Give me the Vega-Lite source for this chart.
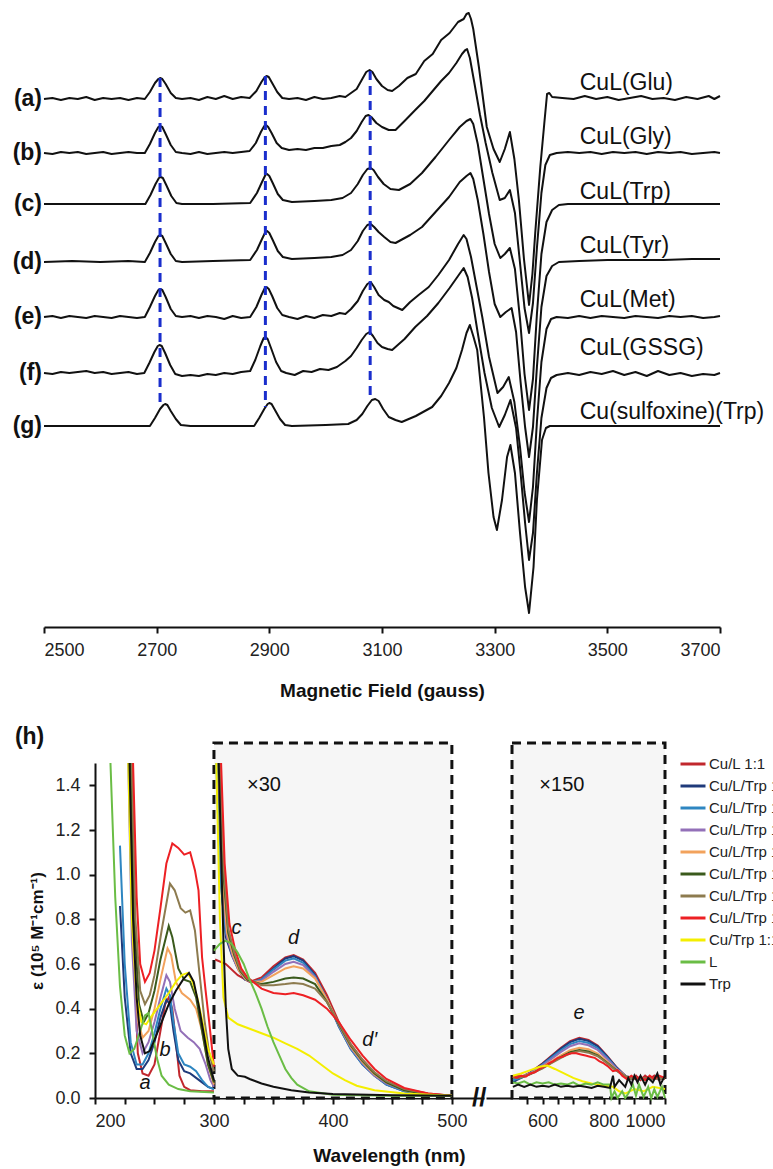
{
"$schema":"https://vega.github.io/schema/vega-lite/v6.json",
"padding":{"left":12,"top":7,"right":0,"bottom":4},
"background":"white",
"config":{
 "font":"Liberation Sans",
 "view":{"stroke":null},
 "axis":{"grid":false,"domainColor":"#111","domainWidth":2,"tickColor":"#111","tickWidth":2,"tickSize":6,"labelColor":"#222","labelFontSize":18,"labelFont":"Liberation Sans","titleFont":"Liberation Sans","titleColor":"#111","titleFontWeight":"bold","titleFontSize":19},
 "text":{"font":"Liberation Sans","color":"#111"},
 "legend":{"labelFont":"Liberation Sans"}
},
"datasets":{
"names":[{"k":1,"name":"Cu/L 1:1"},{"k":2,"name":"Cu/L/Trp 1:1:0.25"},{"k":3,"name":"Cu/L/Trp 1:1:0.5"},{"k":4,"name":"Cu/L/Trp 1:1:1"},{"k":5,"name":"Cu/L/Trp 1:1:2"},{"k":6,"name":"Cu/L/Trp 1:1:5"},{"k":7,"name":"Cu/L/Trp 1:1:10"},{"k":8,"name":"Cu/L/Trp 1:1:20"},{"k":9,"name":"Cu/Trp 1:1"},{"k":10,"name":"L"},{"k":11,"name":"Trp"}],
"epr":[
{"s":"a","x":2500,"y":528},{"s":"a","x":2515,"y":529},{"s":"a","x":2530,"y":527},{"s":"a","x":2545,"y":529},{"s":"a","x":2560,"y":528},{"s":"a","x":2575,"y":530},{"s":"a","x":2590,"y":527},{"s":"a","x":2605,"y":529},{"s":"a","x":2620,"y":528},{"s":"a","x":2635,"y":529},{"s":"a","x":2650,"y":527},{"s":"a","x":2665,"y":529},{"s":"a","x":2679,"y":528},{"s":"a","x":2688,"y":535},{"s":"a","x":2697,"y":544},{"s":"a","x":2703,"y":548},{"s":"a","x":2706,"y":549},{"s":"a","x":2710,"y":548},{"s":"a","x":2716,"y":543},{"s":"a","x":2725,"y":534},{"s":"a","x":2734,"y":529},{"s":"a","x":2745,"y":528},{"s":"a","x":2760,"y":529},{"s":"a","x":2775,"y":527},{"s":"a","x":2790,"y":530},{"s":"a","x":2805,"y":528},{"s":"a","x":2820,"y":531},{"s":"a","x":2835,"y":528},{"s":"a","x":2850,"y":530},{"s":"a","x":2865,"y":529},{"s":"a","x":2877,"y":536},{"s":"a","x":2886,"y":545},{"s":"a","x":2892,"y":550},{"s":"a","x":2895,"y":551},{"s":"a","x":2899,"y":550},{"s":"a","x":2905,"y":544},{"s":"a","x":2914,"y":535},{"s":"a","x":2923,"y":529},{"s":"a","x":2935,"y":528},{"s":"a","x":2950,"y":529},{"s":"a","x":2965,"y":527},{"s":"a","x":2980,"y":530},{"s":"a","x":2995,"y":528},{"s":"a","x":3010,"y":529},{"s":"a","x":3025,"y":531},{"s":"a","x":3035,"y":530},{"s":"a","x":3045,"y":534},{"s":"a","x":3055,"y":538},{"s":"a","x":3064,"y":547},{"s":"a","x":3072,"y":555},{"s":"a","x":3078,"y":557},{"s":"a","x":3083,"y":555},{"s":"a","x":3090,"y":548},{"s":"a","x":3100,"y":541},{"s":"a","x":3110,"y":537},{"s":"a","x":3118,"y":536},{"s":"a","x":3130,"y":541},{"s":"a","x":3145,"y":549},{"s":"a","x":3160,"y":553},{"s":"a","x":3175,"y":566},{"s":"a","x":3190,"y":573},{"s":"a","x":3205,"y":587},{"s":"a","x":3220,"y":594},{"s":"a","x":3235,"y":605},{"s":"a","x":3245,"y":608},{"s":"a","x":3250,"y":613},{"s":"a","x":3254,"y":614},{"s":"a","x":3258,"y":608},{"s":"a","x":3262,"y":598},{"s":"a","x":3272,"y":560},{"s":"a","x":3286,"y":500},{"s":"a","x":3298,"y":478},{"s":"a","x":3309,"y":465},{"s":"a","x":3318,"y":478},{"s":"a","x":3327,"y":495},{"s":"a","x":3335,"y":468},{"s":"a","x":3343,"y":427},{"s":"a","x":3352,"y":368},{"s":"a","x":3361,"y":322},{"s":"a","x":3367,"y":353},{"s":"a","x":3372,"y":394},{"s":"a","x":3381,"y":460},{"s":"a","x":3388,"y":503},{"s":"a","x":3393,"y":533},{"s":"a","x":3397,"y":534},{"s":"a","x":3402,"y":530},{"s":"a","x":3420,"y":529},{"s":"a","x":3440,"y":528},{"s":"a","x":3460,"y":531},{"s":"a","x":3480,"y":528},{"s":"a","x":3500,"y":530},{"s":"a","x":3520,"y":527},{"s":"a","x":3540,"y":529},{"s":"a","x":3560,"y":531},{"s":"a","x":3580,"y":528},{"s":"a","x":3600,"y":529},{"s":"a","x":3620,"y":527},{"s":"a","x":3640,"y":530},{"s":"a","x":3660,"y":528},{"s":"a","x":3680,"y":531},{"s":"a","x":3690,"y":528},{"s":"a","x":3700,"y":531},
{"s":"b","x":2500,"y":474},{"s":"b","x":2515,"y":473},{"s":"b","x":2530,"y":475},{"s":"b","x":2545,"y":474},{"s":"b","x":2560,"y":475},{"s":"b","x":2575,"y":473},{"s":"b","x":2590,"y":474},{"s":"b","x":2605,"y":475},{"s":"b","x":2620,"y":473},{"s":"b","x":2635,"y":474},{"s":"b","x":2650,"y":475},{"s":"b","x":2665,"y":474},{"s":"b","x":2679,"y":474},{"s":"b","x":2688,"y":483},{"s":"b","x":2697,"y":494},{"s":"b","x":2703,"y":500},{"s":"b","x":2706,"y":501},{"s":"b","x":2710,"y":500},{"s":"b","x":2716,"y":493},{"s":"b","x":2725,"y":482},{"s":"b","x":2734,"y":475},{"s":"b","x":2745,"y":474},{"s":"b","x":2760,"y":473},{"s":"b","x":2775,"y":475},{"s":"b","x":2790,"y":473},{"s":"b","x":2805,"y":474},{"s":"b","x":2820,"y":475},{"s":"b","x":2835,"y":474},{"s":"b","x":2850,"y":475},{"s":"b","x":2865,"y":476},{"s":"b","x":2876,"y":484},{"s":"b","x":2885,"y":495},{"s":"b","x":2891,"y":501},{"s":"b","x":2894,"y":502},{"s":"b","x":2898,"y":500},{"s":"b","x":2904,"y":494},{"s":"b","x":2913,"y":484},{"s":"b","x":2922,"y":479},{"s":"b","x":2935,"y":477},{"s":"b","x":2950,"y":478},{"s":"b","x":2965,"y":477},{"s":"b","x":2980,"y":479},{"s":"b","x":2995,"y":479},{"s":"b","x":3010,"y":481},{"s":"b","x":3025,"y":482},{"s":"b","x":3035,"y":485},{"s":"b","x":3045,"y":489},{"s":"b","x":3055,"y":496},{"s":"b","x":3064,"y":505},{"s":"b","x":3071,"y":511},{"s":"b","x":3076,"y":512},{"s":"b","x":3081,"y":510},{"s":"b","x":3090,"y":504},{"s":"b","x":3100,"y":500},{"s":"b","x":3112,"y":497},{"s":"b","x":3124,"y":497},{"s":"b","x":3140,"y":506},{"s":"b","x":3159,"y":517},{"s":"b","x":3175,"y":526},{"s":"b","x":3190,"y":536},{"s":"b","x":3205,"y":546},{"s":"b","x":3219,"y":554},{"s":"b","x":3232,"y":564},{"s":"b","x":3242,"y":573},{"s":"b","x":3248,"y":577},{"s":"b","x":3251,"y":578},{"s":"b","x":3256,"y":569},{"s":"b","x":3264,"y":544},{"s":"b","x":3274,"y":512},{"s":"b","x":3284,"y":484},{"s":"b","x":3296,"y":454},{"s":"b","x":3309,"y":427},{"s":"b","x":3318,"y":429},{"s":"b","x":3327,"y":437},{"s":"b","x":3336,"y":414},{"s":"b","x":3345,"y":364},{"s":"b","x":3353,"y":319},{"s":"b","x":3361,"y":294},{"s":"b","x":3368,"y":324},{"s":"b","x":3375,"y":379},{"s":"b","x":3383,"y":434},{"s":"b","x":3390,"y":462},{"s":"b","x":3398,"y":472},{"s":"b","x":3410,"y":474},{"s":"b","x":3430,"y":475},{"s":"b","x":3450,"y":474},{"s":"b","x":3470,"y":475},{"s":"b","x":3490,"y":473},{"s":"b","x":3510,"y":475},{"s":"b","x":3530,"y":474},{"s":"b","x":3550,"y":475},{"s":"b","x":3570,"y":473},{"s":"b","x":3590,"y":475},{"s":"b","x":3610,"y":474},{"s":"b","x":3630,"y":475},{"s":"b","x":3650,"y":473},{"s":"b","x":3670,"y":474},{"s":"b","x":3690,"y":475},{"s":"b","x":3700,"y":474},
{"s":"c","x":2500,"y":423},{"s":"c","x":2600,"y":423},{"s":"c","x":2680,"y":423},{"s":"c","x":2689,"y":432},{"s":"c","x":2698,"y":443},{"s":"c","x":2704,"y":449},{"s":"c","x":2707,"y":450},{"s":"c","x":2711,"y":449},{"s":"c","x":2717,"y":442},{"s":"c","x":2726,"y":431},{"s":"c","x":2735,"y":424},{"s":"c","x":2745,"y":423},{"s":"c","x":2800,"y":423},{"s":"c","x":2866,"y":424},{"s":"c","x":2878,"y":434},{"s":"c","x":2887,"y":445},{"s":"c","x":2893,"y":452},{"s":"c","x":2896,"y":453},{"s":"c","x":2900,"y":451},{"s":"c","x":2906,"y":444},{"s":"c","x":2915,"y":433},{"s":"c","x":2924,"y":427},{"s":"c","x":2940,"y":425},{"s":"c","x":2980,"y":426},{"s":"c","x":3010,"y":427},{"s":"c","x":3030,"y":429},{"s":"c","x":3045,"y":434},{"s":"c","x":3057,"y":443},{"s":"c","x":3066,"y":452},{"s":"c","x":3074,"y":458},{"s":"c","x":3080,"y":459},{"s":"c","x":3085,"y":457},{"s":"c","x":3093,"y":450},{"s":"c","x":3103,"y":443},{"s":"c","x":3115,"y":438},{"s":"c","x":3130,"y":437},{"s":"c","x":3150,"y":443},{"s":"c","x":3171,"y":454},{"s":"c","x":3195,"y":470},{"s":"c","x":3219,"y":487},{"s":"c","x":3238,"y":500},{"s":"c","x":3250,"y":506},{"s":"c","x":3257,"y":508},{"s":"c","x":3262,"y":503},{"s":"c","x":3270,"y":483},{"s":"c","x":3280,"y":448},{"s":"c","x":3290,"y":413},{"s":"c","x":3300,"y":383},{"s":"c","x":3310,"y":369},{"s":"c","x":3318,"y":373},{"s":"c","x":3327,"y":379},{"s":"c","x":3336,"y":358},{"s":"c","x":3345,"y":308},{"s":"c","x":3353,"y":253},{"s":"c","x":3361,"y":217},{"s":"c","x":3368,"y":248},{"s":"c","x":3375,"y":313},{"s":"c","x":3383,"y":373},{"s":"c","x":3392,"y":405},{"s":"c","x":3402,"y":417},{"s":"c","x":3414,"y":422},{"s":"c","x":3430,"y":423},{"s":"c","x":3700,"y":423},
{"s":"d","x":2500,"y":365},{"s":"d","x":2550,"y":366},{"s":"d","x":2600,"y":365},{"s":"d","x":2650,"y":366},{"s":"d","x":2679,"y":365},{"s":"d","x":2688,"y":374},{"s":"d","x":2697,"y":385},{"s":"d","x":2703,"y":391},{"s":"d","x":2706,"y":392},{"s":"d","x":2710,"y":391},{"s":"d","x":2716,"y":384},{"s":"d","x":2725,"y":373},{"s":"d","x":2734,"y":366},{"s":"d","x":2745,"y":365},{"s":"d","x":2800,"y":366},{"s":"d","x":2866,"y":367},{"s":"d","x":2878,"y":377},{"s":"d","x":2887,"y":388},{"s":"d","x":2893,"y":395},{"s":"d","x":2896,"y":396},{"s":"d","x":2900,"y":394},{"s":"d","x":2906,"y":387},{"s":"d","x":2915,"y":376},{"s":"d","x":2924,"y":370},{"s":"d","x":2940,"y":368},{"s":"d","x":2980,"y":369},{"s":"d","x":3010,"y":370},{"s":"d","x":3030,"y":372},{"s":"d","x":3045,"y":377},{"s":"d","x":3057,"y":386},{"s":"d","x":3066,"y":396},{"s":"d","x":3074,"y":402},{"s":"d","x":3080,"y":403},{"s":"d","x":3086,"y":400},{"s":"d","x":3094,"y":395},{"s":"d","x":3104,"y":390},{"s":"d","x":3115,"y":385},{"s":"d","x":3124,"y":384},{"s":"d","x":3150,"y":392},{"s":"d","x":3171,"y":400},{"s":"d","x":3195,"y":415},{"s":"d","x":3219,"y":430},{"s":"d","x":3238,"y":445},{"s":"d","x":3250,"y":451},{"s":"d","x":3257,"y":454},{"s":"d","x":3262,"y":448},{"s":"d","x":3270,"y":427},{"s":"d","x":3280,"y":393},{"s":"d","x":3290,"y":355},{"s":"d","x":3300,"y":323},{"s":"d","x":3310,"y":310},{"s":"d","x":3320,"y":315},{"s":"d","x":3330,"y":319},{"s":"d","x":3338,"y":295},{"s":"d","x":3346,"y":245},{"s":"d","x":3354,"y":200},{"s":"d","x":3361,"y":170},{"s":"d","x":3368,"y":200},{"s":"d","x":3375,"y":260},{"s":"d","x":3383,"y":320},{"s":"d","x":3392,"y":351},{"s":"d","x":3402,"y":361},{"s":"d","x":3414,"y":365},{"s":"d","x":3450,"y":366},{"s":"d","x":3500,"y":367},{"s":"d","x":3550,"y":367},{"s":"d","x":3600,"y":367},{"s":"d","x":3650,"y":368},{"s":"d","x":3700,"y":368},
{"s":"e","x":2500,"y":310},{"s":"e","x":2515,"y":311},{"s":"e","x":2530,"y":309},{"s":"e","x":2545,"y":311},{"s":"e","x":2560,"y":310},{"s":"e","x":2575,"y":309},{"s":"e","x":2590,"y":311},{"s":"e","x":2605,"y":310},{"s":"e","x":2620,"y":309},{"s":"e","x":2635,"y":311},{"s":"e","x":2650,"y":310},{"s":"e","x":2665,"y":309},{"s":"e","x":2679,"y":310},{"s":"e","x":2688,"y":320},{"s":"e","x":2697,"y":331},{"s":"e","x":2703,"y":337},{"s":"e","x":2706,"y":338},{"s":"e","x":2710,"y":337},{"s":"e","x":2716,"y":330},{"s":"e","x":2725,"y":318},{"s":"e","x":2734,"y":311},{"s":"e","x":2745,"y":310},{"s":"e","x":2760,"y":311},{"s":"e","x":2775,"y":309},{"s":"e","x":2790,"y":311},{"s":"e","x":2805,"y":310},{"s":"e","x":2820,"y":308},{"s":"e","x":2835,"y":311},{"s":"e","x":2850,"y":309},{"s":"e","x":2866,"y":310},{"s":"e","x":2877,"y":320},{"s":"e","x":2886,"y":332},{"s":"e","x":2892,"y":339},{"s":"e","x":2895,"y":340},{"s":"e","x":2899,"y":338},{"s":"e","x":2905,"y":331},{"s":"e","x":2914,"y":319},{"s":"e","x":2923,"y":312},{"s":"e","x":2935,"y":310},{"s":"e","x":2950,"y":308},{"s":"e","x":2965,"y":311},{"s":"e","x":2980,"y":309},{"s":"e","x":2995,"y":312},{"s":"e","x":3010,"y":311},{"s":"e","x":3025,"y":314},{"s":"e","x":3035,"y":313},{"s":"e","x":3045,"y":318},{"s":"e","x":3057,"y":326},{"s":"e","x":3066,"y":336},{"s":"e","x":3074,"y":343},{"s":"e","x":3080,"y":345},{"s":"e","x":3086,"y":340},{"s":"e","x":3094,"y":332},{"s":"e","x":3104,"y":327},{"s":"e","x":3112,"y":325},{"s":"e","x":3120,"y":321},{"s":"e","x":3136,"y":317},{"s":"e","x":3150,"y":325},{"s":"e","x":3165,"y":332},{"s":"e","x":3183,"y":340},{"s":"e","x":3200,"y":352},{"s":"e","x":3219,"y":367},{"s":"e","x":3235,"y":383},{"s":"e","x":3245,"y":392},{"s":"e","x":3250,"y":388},{"s":"e","x":3258,"y":370},{"s":"e","x":3268,"y":340},{"s":"e","x":3278,"y":310},{"s":"e","x":3290,"y":270},{"s":"e","x":3305,"y":234},{"s":"e","x":3315,"y":240},{"s":"e","x":3325,"y":250},{"s":"e","x":3335,"y":225},{"s":"e","x":3345,"y":180},{"s":"e","x":3353,"y":135},{"s":"e","x":3361,"y":105},{"s":"e","x":3368,"y":140},{"s":"e","x":3375,"y":205},{"s":"e","x":3383,"y":265},{"s":"e","x":3392,"y":298},{"s":"e","x":3400,"y":308},{"s":"e","x":3410,"y":310},{"s":"e","x":3430,"y":309},{"s":"e","x":3450,"y":311},{"s":"e","x":3470,"y":309},{"s":"e","x":3490,"y":311},{"s":"e","x":3510,"y":310},{"s":"e","x":3530,"y":309},{"s":"e","x":3550,"y":311},{"s":"e","x":3570,"y":310},{"s":"e","x":3590,"y":309},{"s":"e","x":3610,"y":311},{"s":"e","x":3630,"y":310},{"s":"e","x":3650,"y":311},{"s":"e","x":3670,"y":309},{"s":"e","x":3690,"y":310},{"s":"e","x":3700,"y":311},
{"s":"f","x":2500,"y":254},{"s":"f","x":2515,"y":253},{"s":"f","x":2530,"y":255},{"s":"f","x":2545,"y":254},{"s":"f","x":2560,"y":255},{"s":"f","x":2575,"y":256},{"s":"f","x":2590,"y":254},{"s":"f","x":2605,"y":255},{"s":"f","x":2620,"y":253},{"s":"f","x":2635,"y":254},{"s":"f","x":2650,"y":255},{"s":"f","x":2665,"y":253},{"s":"f","x":2678,"y":254},{"s":"f","x":2687,"y":264},{"s":"f","x":2696,"y":275},{"s":"f","x":2702,"y":281},{"s":"f","x":2705,"y":282},{"s":"f","x":2709,"y":281},{"s":"f","x":2715,"y":274},{"s":"f","x":2724,"y":262},{"s":"f","x":2733,"y":253},{"s":"f","x":2745,"y":251},{"s":"f","x":2760,"y":252},{"s":"f","x":2775,"y":251},{"s":"f","x":2790,"y":253},{"s":"f","x":2805,"y":252},{"s":"f","x":2820,"y":254},{"s":"f","x":2835,"y":253},{"s":"f","x":2850,"y":255},{"s":"f","x":2866,"y":256},{"s":"f","x":2875,"y":267},{"s":"f","x":2884,"y":281},{"s":"f","x":2890,"y":289},{"s":"f","x":2893,"y":290},{"s":"f","x":2897,"y":288},{"s":"f","x":2903,"y":279},{"s":"f","x":2912,"y":265},{"s":"f","x":2921,"y":256},{"s":"f","x":2930,"y":254},{"s":"f","x":2945,"y":252},{"s":"f","x":2960,"y":256},{"s":"f","x":2975,"y":255},{"s":"f","x":2990,"y":258},{"s":"f","x":3005,"y":257},{"s":"f","x":3020,"y":260},{"s":"f","x":3035,"y":266},{"s":"f","x":3045,"y":271},{"s":"f","x":3055,"y":279},{"s":"f","x":3064,"y":287},{"s":"f","x":3072,"y":293},{"s":"f","x":3078,"y":295},{"s":"f","x":3084,"y":291},{"s":"f","x":3092,"y":284},{"s":"f","x":3100,"y":280},{"s":"f","x":3110,"y":278},{"s":"f","x":3118,"y":277},{"s":"f","x":3140,"y":288},{"s":"f","x":3159,"y":300},{"s":"f","x":3180,"y":311},{"s":"f","x":3200,"y":324},{"s":"f","x":3220,"y":339},{"s":"f","x":3235,"y":351},{"s":"f","x":3245,"y":359},{"s":"f","x":3252,"y":350},{"s":"f","x":3260,"y":329},{"s":"f","x":3270,"y":294},{"s":"f","x":3282,"y":254},{"s":"f","x":3295,"y":219},{"s":"f","x":3308,"y":200},{"s":"f","x":3318,"y":212},{"s":"f","x":3328,"y":227},{"s":"f","x":3338,"y":199},{"s":"f","x":3346,"y":154},{"s":"f","x":3354,"y":104},{"s":"f","x":3361,"y":67},{"s":"f","x":3368,"y":94},{"s":"f","x":3375,"y":154},{"s":"f","x":3383,"y":209},{"s":"f","x":3392,"y":239},{"s":"f","x":3400,"y":249},{"s":"f","x":3410,"y":252},{"s":"f","x":3430,"y":254},{"s":"f","x":3450,"y":252},{"s":"f","x":3470,"y":255},{"s":"f","x":3490,"y":253},{"s":"f","x":3510,"y":256},{"s":"f","x":3530,"y":252},{"s":"f","x":3550,"y":255},{"s":"f","x":3570,"y":251},{"s":"f","x":3590,"y":256},{"s":"f","x":3610,"y":252},{"s":"f","x":3630,"y":254},{"s":"f","x":3650,"y":251},{"s":"f","x":3670,"y":253},{"s":"f","x":3690,"y":252},{"s":"f","x":3700,"y":254},
{"s":"g","x":2500,"y":201},{"s":"g","x":2600,"y":201},{"s":"g","x":2688,"y":201},{"s":"g","x":2697,"y":209},{"s":"g","x":2706,"y":218},{"s":"g","x":2712,"y":222},{"s":"g","x":2715,"y":223},{"s":"g","x":2719,"y":222},{"s":"g","x":2725,"y":216},{"s":"g","x":2734,"y":208},{"s":"g","x":2743,"y":202},{"s":"g","x":2760,"y":201},{"s":"g","x":2850,"y":201},{"s":"g","x":2873,"y":201},{"s":"g","x":2882,"y":209},{"s":"g","x":2891,"y":218},{"s":"g","x":2897,"y":223},{"s":"g","x":2900,"y":224},{"s":"g","x":2904,"y":223},{"s":"g","x":2910,"y":217},{"s":"g","x":2919,"y":208},{"s":"g","x":2928,"y":202},{"s":"g","x":2940,"y":201},{"s":"g","x":3000,"y":202},{"s":"g","x":3040,"y":203},{"s":"g","x":3055,"y":207},{"s":"g","x":3065,"y":213},{"s":"g","x":3074,"y":221},{"s":"g","x":3082,"y":227},{"s":"g","x":3088,"y":228},{"s":"g","x":3094,"y":226},{"s":"g","x":3102,"y":218},{"s":"g","x":3112,"y":210},{"s":"g","x":3124,"y":207},{"s":"g","x":3135,"y":205},{"s":"g","x":3160,"y":211},{"s":"g","x":3189,"y":220},{"s":"g","x":3205,"y":231},{"s":"g","x":3219,"y":244},{"s":"g","x":3232,"y":259},{"s":"g","x":3242,"y":277},{"s":"g","x":3250,"y":294},{"s":"g","x":3256,"y":302},{"s":"g","x":3262,"y":291},{"s":"g","x":3269,"y":277},{"s":"g","x":3281,"y":210},{"s":"g","x":3289,"y":154},{"s":"g","x":3298,"y":110},{"s":"g","x":3304,"y":97},{"s":"g","x":3313,"y":127},{"s":"g","x":3322,"y":170},{"s":"g","x":3328,"y":182},{"s":"g","x":3336,"y":154},{"s":"g","x":3345,"y":94},{"s":"g","x":3354,"y":40},{"s":"g","x":3361,"y":14},{"s":"g","x":3369,"y":60},{"s":"g","x":3375,"y":127},{"s":"g","x":3384,"y":187},{"s":"g","x":3391,"y":199},{"s":"g","x":3398,"y":201},{"s":"g","x":3700,"y":201}
],
"uv":[
{"k":1,"g":"u","x":230,"y":1.5},{"k":1,"g":"u","x":233,"y":0.6},{"k":1,"g":"u","x":236,"y":0.2},{"k":1,"g":"u","x":240,"y":0.11},{"k":1,"g":"u","x":245,"y":0.1},{"k":1,"g":"u","x":250,"y":0.15},{"k":1,"g":"u","x":255,"y":0.3},{"k":1,"g":"u","x":259,"y":0.42},{"k":1,"g":"u","x":262,"y":0.45},{"k":1,"g":"u","x":265,"y":0.4},{"k":1,"g":"u","x":268,"y":0.25},{"k":1,"g":"u","x":271,"y":0.1},{"k":1,"g":"u","x":275,"y":0.05},{"k":1,"g":"u","x":280,"y":0.035},{"k":1,"g":"u","x":290,"y":0.03},{"k":1,"g":"u","x":300,"y":0.03},
{"k":1,"g":"v","x":301,"y":0.62},{"k":1,"g":"v","x":310,"y":0.6},{"k":1,"g":"v","x":320,"y":0.55},{"k":1,"g":"v","x":330,"y":0.52},{"k":1,"g":"v","x":340,"y":0.54},{"k":1,"g":"v","x":350,"y":0.59},{"k":1,"g":"v","x":360,"y":0.63},{"k":1,"g":"v","x":367,"y":0.64},{"k":1,"g":"v","x":375,"y":0.62},{"k":1,"g":"v","x":385,"y":0.56},{"k":1,"g":"v","x":395,"y":0.46},{"k":1,"g":"v","x":405,"y":0.34},{"k":1,"g":"v","x":415,"y":0.24},{"k":1,"g":"v","x":425,"y":0.17},{"k":1,"g":"v","x":435,"y":0.11},{"k":1,"g":"v","x":445,"y":0.07},{"k":1,"g":"v","x":460,"y":0.04},{"k":1,"g":"v","x":480,"y":0.02},{"k":1,"g":"v","x":500,"y":0.01},
{"k":1,"g":"w","x":503,"y":0.09},{"k":1,"g":"w","x":515,"y":0.1},{"k":1,"g":"w","x":530,"y":0.095},{"k":1,"g":"w","x":545,"y":0.105},{"k":1,"g":"w","x":560,"y":0.115},{"k":1,"g":"w","x":580,"y":0.135},{"k":1,"g":"w","x":600,"y":0.155},{"k":1,"g":"w","x":630,"y":0.19},{"k":1,"g":"w","x":660,"y":0.225},{"k":1,"g":"w","x":690,"y":0.255},{"k":1,"g":"w","x":720,"y":0.27},{"k":1,"g":"w","x":750,"y":0.26},{"k":1,"g":"w","x":780,"y":0.235},{"k":1,"g":"w","x":810,"y":0.19},{"k":1,"g":"w","x":840,"y":0.14},{"k":1,"g":"w","x":870,"y":0.1},{"k":1,"g":"w","x":890,"y":0.085},{"k":1,"g":"w","x":905,"y":0.1},{"k":1,"g":"w","x":920,"y":0.08},{"k":1,"g":"w","x":935,"y":0.1},{"k":1,"g":"w","x":950,"y":0.085},{"k":1,"g":"w","x":965,"y":0.1},{"k":1,"g":"w","x":980,"y":0.08},{"k":1,"g":"w","x":1000,"y":0.095},
{"k":2,"g":"u","x":221,"y":0.86},{"k":2,"g":"u","x":225,"y":0.45},{"k":2,"g":"u","x":230,"y":0.2},{"k":2,"g":"u","x":235,"y":0.13},{"k":2,"g":"u","x":240,"y":0.13},{"k":2,"g":"u","x":245,"y":0.17},{"k":2,"g":"u","x":250,"y":0.25},{"k":2,"g":"u","x":255,"y":0.36},{"k":2,"g":"u","x":260,"y":0.44},{"k":2,"g":"u","x":263,"y":0.42},{"k":2,"g":"u","x":266,"y":0.3},{"k":2,"g":"u","x":270,"y":0.17},{"k":2,"g":"u","x":275,"y":0.12},{"k":2,"g":"u","x":280,"y":0.11},{"k":2,"g":"u","x":285,"y":0.09},{"k":2,"g":"u","x":290,"y":0.07},{"k":2,"g":"u","x":295,"y":0.05},{"k":2,"g":"u","x":300,"y":0.04},
{"k":2,"g":"v","x":303,"y":1.5},{"k":2,"g":"v","x":306,"y":0.95},{"k":2,"g":"v","x":310,"y":0.72},{"k":2,"g":"v","x":315,"y":0.64},{"k":2,"g":"v","x":320,"y":0.58},{"k":2,"g":"v","x":326,"y":0.53},{"k":2,"g":"v","x":333,"y":0.52},{"k":2,"g":"v","x":340,"y":0.53},{"k":2,"g":"v","x":350,"y":0.58},{"k":2,"g":"v","x":360,"y":0.625},{"k":2,"g":"v","x":367,"y":0.635},{"k":2,"g":"v","x":375,"y":0.615},{"k":2,"g":"v","x":385,"y":0.55},{"k":2,"g":"v","x":395,"y":0.44},{"k":2,"g":"v","x":405,"y":0.32},{"k":2,"g":"v","x":415,"y":0.22},{"k":2,"g":"v","x":425,"y":0.15},{"k":2,"g":"v","x":435,"y":0.1},{"k":2,"g":"v","x":445,"y":0.06},{"k":2,"g":"v","x":460,"y":0.03},{"k":2,"g":"v","x":480,"y":0.015},{"k":2,"g":"v","x":500,"y":0.01},
{"k":2,"g":"w","x":503,"y":0.07},{"k":2,"g":"w","x":515,"y":0.08},{"k":2,"g":"w","x":530,"y":0.09},{"k":2,"g":"w","x":545,"y":0.1},{"k":2,"g":"w","x":560,"y":0.114},{"k":2,"g":"w","x":580,"y":0.133},{"k":2,"g":"w","x":600,"y":0.153},{"k":2,"g":"w","x":630,"y":0.187},{"k":2,"g":"w","x":660,"y":0.221},{"k":2,"g":"w","x":690,"y":0.25},{"k":2,"g":"w","x":720,"y":0.265},{"k":2,"g":"w","x":750,"y":0.255},{"k":2,"g":"w","x":780,"y":0.231},{"k":2,"g":"w","x":810,"y":0.187},{"k":2,"g":"w","x":840,"y":0.139},{"k":2,"g":"w","x":870,"y":0.1},{"k":2,"g":"w","x":890,"y":0.085},{"k":2,"g":"w","x":920,"y":0.09},{"k":2,"g":"w","x":950,"y":0.085},{"k":2,"g":"w","x":980,"y":0.09},{"k":2,"g":"w","x":1000,"y":0.085},
{"k":3,"g":"u","x":221,"y":1.13},{"k":3,"g":"u","x":225,"y":0.6},{"k":3,"g":"u","x":230,"y":0.25},{"k":3,"g":"u","x":235,"y":0.15},{"k":3,"g":"u","x":240,"y":0.15},{"k":3,"g":"u","x":245,"y":0.2},{"k":3,"g":"u","x":250,"y":0.29},{"k":3,"g":"u","x":255,"y":0.4},{"k":3,"g":"u","x":260,"y":0.49},{"k":3,"g":"u","x":263,"y":0.46},{"k":3,"g":"u","x":266,"y":0.34},{"k":3,"g":"u","x":270,"y":0.2},{"k":3,"g":"u","x":275,"y":0.15},{"k":3,"g":"u","x":280,"y":0.14},{"k":3,"g":"u","x":285,"y":0.12},{"k":3,"g":"u","x":290,"y":0.08},{"k":3,"g":"u","x":295,"y":0.05},{"k":3,"g":"u","x":300,"y":0.04},
{"k":3,"g":"v","x":302,"y":1.5},{"k":3,"g":"v","x":305,"y":1.0},{"k":3,"g":"v","x":310,"y":0.74},{"k":3,"g":"v","x":315,"y":0.66},{"k":3,"g":"v","x":320,"y":0.59},{"k":3,"g":"v","x":326,"y":0.535},{"k":3,"g":"v","x":333,"y":0.52},{"k":3,"g":"v","x":340,"y":0.53},{"k":3,"g":"v","x":350,"y":0.575},{"k":3,"g":"v","x":360,"y":0.615},{"k":3,"g":"v","x":367,"y":0.625},{"k":3,"g":"v","x":375,"y":0.605},{"k":3,"g":"v","x":385,"y":0.545},{"k":3,"g":"v","x":395,"y":0.44},{"k":3,"g":"v","x":405,"y":0.32},{"k":3,"g":"v","x":415,"y":0.22},{"k":3,"g":"v","x":425,"y":0.15},{"k":3,"g":"v","x":435,"y":0.1},{"k":3,"g":"v","x":445,"y":0.06},{"k":3,"g":"v","x":460,"y":0.03},{"k":3,"g":"v","x":480,"y":0.015},{"k":3,"g":"v","x":500,"y":0.01},
{"k":3,"g":"w","x":503,"y":0.08},{"k":3,"g":"w","x":515,"y":0.085},{"k":3,"g":"w","x":530,"y":0.09},{"k":3,"g":"w","x":545,"y":0.1},{"k":3,"g":"w","x":560,"y":0.113},{"k":3,"g":"w","x":580,"y":0.13},{"k":3,"g":"w","x":600,"y":0.15},{"k":3,"g":"w","x":630,"y":0.182},{"k":3,"g":"w","x":660,"y":0.214},{"k":3,"g":"w","x":690,"y":0.241},{"k":3,"g":"w","x":720,"y":0.255},{"k":3,"g":"w","x":750,"y":0.246},{"k":3,"g":"w","x":780,"y":0.223},{"k":3,"g":"w","x":810,"y":0.182},{"k":3,"g":"w","x":840,"y":0.136},{"k":3,"g":"w","x":870,"y":0.099},{"k":3,"g":"w","x":890,"y":0.085},{"k":3,"g":"w","x":920,"y":0.09},{"k":3,"g":"w","x":950,"y":0.085},{"k":3,"g":"w","x":980,"y":0.09},{"k":3,"g":"w","x":1000,"y":0.085},
{"k":4,"g":"u","x":228,"y":1.5},{"k":4,"g":"u","x":231,"y":0.7},{"k":4,"g":"u","x":235,"y":0.3},{"k":4,"g":"u","x":240,"y":0.2},{"k":4,"g":"u","x":245,"y":0.25},{"k":4,"g":"u","x":250,"y":0.34},{"k":4,"g":"u","x":255,"y":0.45},{"k":4,"g":"u","x":260,"y":0.55},{"k":4,"g":"u","x":263,"y":0.52},{"k":4,"g":"u","x":267,"y":0.4},{"k":4,"g":"u","x":272,"y":0.3},{"k":4,"g":"u","x":278,"y":0.27},{"k":4,"g":"u","x":283,"y":0.25},{"k":4,"g":"u","x":288,"y":0.22},{"k":4,"g":"u","x":293,"y":0.15},{"k":4,"g":"u","x":297,"y":0.08},{"k":4,"g":"u","x":300,"y":0.05},
{"k":4,"g":"v","x":304,"y":1.5},{"k":4,"g":"v","x":307,"y":0.95},{"k":4,"g":"v","x":311,"y":0.72},{"k":4,"g":"v","x":316,"y":0.63},{"k":4,"g":"v","x":321,"y":0.57},{"k":4,"g":"v","x":327,"y":0.53},{"k":4,"g":"v","x":333,"y":0.52},{"k":4,"g":"v","x":340,"y":0.525},{"k":4,"g":"v","x":350,"y":0.565},{"k":4,"g":"v","x":360,"y":0.6},{"k":4,"g":"v","x":367,"y":0.61},{"k":4,"g":"v","x":375,"y":0.595},{"k":4,"g":"v","x":385,"y":0.54},{"k":4,"g":"v","x":395,"y":0.44},{"k":4,"g":"v","x":405,"y":0.325},{"k":4,"g":"v","x":415,"y":0.225},{"k":4,"g":"v","x":425,"y":0.155},{"k":4,"g":"v","x":435,"y":0.1},{"k":4,"g":"v","x":445,"y":0.065},{"k":4,"g":"v","x":460,"y":0.035},{"k":4,"g":"v","x":480,"y":0.015},{"k":4,"g":"v","x":500,"y":0.01},
{"k":4,"g":"w","x":503,"y":0.09},{"k":4,"g":"w","x":530,"y":0.094},{"k":4,"g":"w","x":560,"y":0.112},{"k":4,"g":"w","x":600,"y":0.146},{"k":4,"g":"w","x":630,"y":0.176},{"k":4,"g":"w","x":660,"y":0.206},{"k":4,"g":"w","x":690,"y":0.232},{"k":4,"g":"w","x":720,"y":0.245},{"k":4,"g":"w","x":750,"y":0.236},{"k":4,"g":"w","x":780,"y":0.215},{"k":4,"g":"w","x":810,"y":0.176},{"k":4,"g":"w","x":840,"y":0.133},{"k":4,"g":"w","x":870,"y":0.099},{"k":4,"g":"w","x":890,"y":0.086},{"k":4,"g":"w","x":920,"y":0.09},{"k":4,"g":"w","x":950,"y":0.086},{"k":4,"g":"w","x":980,"y":0.09},{"k":4,"g":"w","x":1000,"y":0.086},
{"k":5,"g":"u","x":229,"y":1.5},{"k":5,"g":"u","x":232,"y":0.7},{"k":5,"g":"u","x":236,"y":0.35},{"k":5,"g":"u","x":240,"y":0.27},{"k":5,"g":"u","x":245,"y":0.3},{"k":5,"g":"u","x":250,"y":0.4},{"k":5,"g":"u","x":255,"y":0.53},{"k":5,"g":"u","x":261,"y":0.67},{"k":5,"g":"u","x":264,"y":0.64},{"k":5,"g":"u","x":268,"y":0.52},{"k":5,"g":"u","x":273,"y":0.47},{"k":5,"g":"u","x":280,"y":0.44},{"k":5,"g":"u","x":285,"y":0.4},{"k":5,"g":"u","x":290,"y":0.3},{"k":5,"g":"u","x":295,"y":0.15},{"k":5,"g":"u","x":300,"y":0.06},
{"k":5,"g":"v","x":304,"y":1.5},{"k":5,"g":"v","x":307,"y":1.0},{"k":5,"g":"v","x":311,"y":0.74},{"k":5,"g":"v","x":316,"y":0.64},{"k":5,"g":"v","x":321,"y":0.57},{"k":5,"g":"v","x":327,"y":0.53},{"k":5,"g":"v","x":333,"y":0.52},{"k":5,"g":"v","x":340,"y":0.52},{"k":5,"g":"v","x":350,"y":0.55},{"k":5,"g":"v","x":360,"y":0.58},{"k":5,"g":"v","x":367,"y":0.59},{"k":5,"g":"v","x":375,"y":0.58},{"k":5,"g":"v","x":385,"y":0.535},{"k":5,"g":"v","x":395,"y":0.44},{"k":5,"g":"v","x":405,"y":0.33},{"k":5,"g":"v","x":415,"y":0.23},{"k":5,"g":"v","x":425,"y":0.16},{"k":5,"g":"v","x":435,"y":0.105},{"k":5,"g":"v","x":445,"y":0.07},{"k":5,"g":"v","x":460,"y":0.035},{"k":5,"g":"v","x":480,"y":0.015},{"k":5,"g":"v","x":500,"y":0.01},
{"k":5,"g":"w","x":503,"y":0.09},{"k":5,"g":"w","x":530,"y":0.094},{"k":5,"g":"w","x":560,"y":0.109},{"k":5,"g":"w","x":600,"y":0.139},{"k":5,"g":"w","x":630,"y":0.165},{"k":5,"g":"w","x":660,"y":0.191},{"k":5,"g":"w","x":690,"y":0.214},{"k":5,"g":"w","x":720,"y":0.225},{"k":5,"g":"w","x":750,"y":0.218},{"k":5,"g":"w","x":780,"y":0.199},{"k":5,"g":"w","x":810,"y":0.165},{"k":5,"g":"w","x":840,"y":0.128},{"k":5,"g":"w","x":870,"y":0.098},{"k":5,"g":"w","x":890,"y":0.086},{"k":5,"g":"w","x":920,"y":0.09},{"k":5,"g":"w","x":950,"y":0.086},{"k":5,"g":"w","x":980,"y":0.09},{"k":5,"g":"w","x":1000,"y":0.086},
{"k":6,"g":"u","x":230,"y":1.5},{"k":6,"g":"u","x":233,"y":0.8},{"k":6,"g":"u","x":237,"y":0.42},{"k":6,"g":"u","x":241,"y":0.34},{"k":6,"g":"u","x":245,"y":0.38},{"k":6,"g":"u","x":250,"y":0.48},{"k":6,"g":"u","x":255,"y":0.62},{"k":6,"g":"u","x":262,"y":0.77},{"k":6,"g":"u","x":265,"y":0.72},{"k":6,"g":"u","x":270,"y":0.58},{"k":6,"g":"u","x":275,"y":0.53},{"k":6,"g":"u","x":280,"y":0.52},{"k":6,"g":"u","x":285,"y":0.45},{"k":6,"g":"u","x":290,"y":0.3},{"k":6,"g":"u","x":295,"y":0.15},{"k":6,"g":"u","x":300,"y":0.07},
{"k":6,"g":"v","x":305,"y":1.5},{"k":6,"g":"v","x":308,"y":1.0},{"k":6,"g":"v","x":312,"y":0.74},{"k":6,"g":"v","x":317,"y":0.64},{"k":6,"g":"v","x":322,"y":0.57},{"k":6,"g":"v","x":328,"y":0.53},{"k":6,"g":"v","x":333,"y":0.52},{"k":6,"g":"v","x":340,"y":0.51},{"k":6,"g":"v","x":350,"y":0.52},{"k":6,"g":"v","x":360,"y":0.535},{"k":6,"g":"v","x":367,"y":0.54},{"k":6,"g":"v","x":375,"y":0.535},{"k":6,"g":"v","x":385,"y":0.51},{"k":6,"g":"v","x":395,"y":0.43},{"k":6,"g":"v","x":405,"y":0.33},{"k":6,"g":"v","x":415,"y":0.235},{"k":6,"g":"v","x":425,"y":0.165},{"k":6,"g":"v","x":435,"y":0.11},{"k":6,"g":"v","x":445,"y":0.07},{"k":6,"g":"v","x":460,"y":0.035},{"k":6,"g":"v","x":480,"y":0.015},{"k":6,"g":"v","x":500,"y":0.01},
{"k":6,"g":"w","x":503,"y":0.09},{"k":6,"g":"w","x":530,"y":0.093},{"k":6,"g":"w","x":560,"y":0.107},{"k":6,"g":"w","x":600,"y":0.135},{"k":6,"g":"w","x":630,"y":0.159},{"k":6,"g":"w","x":660,"y":0.184},{"k":6,"g":"w","x":690,"y":0.205},{"k":6,"g":"w","x":720,"y":0.215},{"k":6,"g":"w","x":750,"y":0.208},{"k":6,"g":"w","x":780,"y":0.191},{"k":6,"g":"w","x":810,"y":0.159},{"k":6,"g":"w","x":840,"y":0.125},{"k":6,"g":"w","x":870,"y":0.097},{"k":6,"g":"w","x":890,"y":0.087},{"k":6,"g":"w","x":920,"y":0.09},{"k":6,"g":"w","x":950,"y":0.087},{"k":6,"g":"w","x":980,"y":0.09},{"k":6,"g":"w","x":1000,"y":0.087},
{"k":7,"g":"u","x":231,"y":1.5},{"k":7,"g":"u","x":234,"y":0.8},{"k":7,"g":"u","x":238,"y":0.48},{"k":7,"g":"u","x":242,"y":0.42},{"k":7,"g":"u","x":246,"y":0.46},{"k":7,"g":"u","x":250,"y":0.55},{"k":7,"g":"u","x":256,"y":0.75},{"k":7,"g":"u","x":263,"y":0.96},{"k":7,"g":"u","x":267,"y":0.93},{"k":7,"g":"u","x":272,"y":0.85},{"k":7,"g":"u","x":276,"y":0.83},{"k":7,"g":"u","x":280,"y":0.84},{"k":7,"g":"u","x":284,"y":0.75},{"k":7,"g":"u","x":288,"y":0.55},{"k":7,"g":"u","x":292,"y":0.35},{"k":7,"g":"u","x":296,"y":0.2},{"k":7,"g":"u","x":300,"y":0.12},
{"k":7,"g":"v","x":305,"y":1.5},{"k":7,"g":"v","x":308,"y":1.05},{"k":7,"g":"v","x":312,"y":0.76},{"k":7,"g":"v","x":317,"y":0.65},{"k":7,"g":"v","x":322,"y":0.575},{"k":7,"g":"v","x":328,"y":0.535},{"k":7,"g":"v","x":333,"y":0.52},{"k":7,"g":"v","x":340,"y":0.505},{"k":7,"g":"v","x":350,"y":0.505},{"k":7,"g":"v","x":360,"y":0.51},{"k":7,"g":"v","x":367,"y":0.515},{"k":7,"g":"v","x":375,"y":0.51},{"k":7,"g":"v","x":385,"y":0.49},{"k":7,"g":"v","x":395,"y":0.43},{"k":7,"g":"v","x":405,"y":0.335},{"k":7,"g":"v","x":415,"y":0.24},{"k":7,"g":"v","x":425,"y":0.17},{"k":7,"g":"v","x":435,"y":0.115},{"k":7,"g":"v","x":445,"y":0.075},{"k":7,"g":"v","x":460,"y":0.04},{"k":7,"g":"v","x":480,"y":0.018},{"k":7,"g":"v","x":500,"y":0.01},
{"k":7,"g":"w","x":503,"y":0.09},{"k":7,"g":"w","x":530,"y":0.093},{"k":7,"g":"w","x":560,"y":0.107},{"k":7,"g":"w","x":600,"y":0.133},{"k":7,"g":"w","x":630,"y":0.157},{"k":7,"g":"w","x":660,"y":0.18},{"k":7,"g":"w","x":690,"y":0.2},{"k":7,"g":"w","x":720,"y":0.21},{"k":7,"g":"w","x":750,"y":0.203},{"k":7,"g":"w","x":780,"y":0.187},{"k":7,"g":"w","x":810,"y":0.157},{"k":7,"g":"w","x":840,"y":0.123},{"k":7,"g":"w","x":870,"y":0.097},{"k":7,"g":"w","x":890,"y":0.087},{"k":7,"g":"w","x":920,"y":0.09},{"k":7,"g":"w","x":950,"y":0.087},{"k":7,"g":"w","x":980,"y":0.09},{"k":7,"g":"w","x":1000,"y":0.087},
{"k":8,"g":"u","x":232,"y":1.5},{"k":8,"g":"u","x":235,"y":0.9},{"k":8,"g":"u","x":238,"y":0.6},{"k":8,"g":"u","x":242,"y":0.52},{"k":8,"g":"u","x":246,"y":0.56},{"k":8,"g":"u","x":250,"y":0.66},{"k":8,"g":"u","x":255,"y":0.85},{"k":8,"g":"u","x":260,"y":1.05},{"k":8,"g":"u","x":265,"y":1.14},{"k":8,"g":"u","x":270,"y":1.12},{"k":8,"g":"u","x":275,"y":1.09},{"k":8,"g":"u","x":280,"y":1.1},{"k":8,"g":"u","x":284,"y":1.02},{"k":8,"g":"u","x":287,"y":0.93},{"k":8,"g":"u","x":290,"y":0.63},{"k":8,"g":"u","x":293,"y":0.48},{"k":8,"g":"u","x":296,"y":0.34},{"k":8,"g":"u","x":300,"y":0.14},
{"k":8,"g":"v","x":306,"y":1.5},{"k":8,"g":"v","x":309,"y":1.05},{"k":8,"g":"v","x":313,"y":0.78},{"k":8,"g":"v","x":318,"y":0.66},{"k":8,"g":"v","x":323,"y":0.58},{"k":8,"g":"v","x":328,"y":0.54},{"k":8,"g":"v","x":333,"y":0.52},{"k":8,"g":"v","x":340,"y":0.49},{"k":8,"g":"v","x":350,"y":0.47},{"k":8,"g":"v","x":360,"y":0.465},{"k":8,"g":"v","x":367,"y":0.47},{"k":8,"g":"v","x":375,"y":0.46},{"k":8,"g":"v","x":385,"y":0.44},{"k":8,"g":"v","x":395,"y":0.4},{"k":8,"g":"v","x":405,"y":0.34},{"k":8,"g":"v","x":415,"y":0.26},{"k":8,"g":"v","x":425,"y":0.19},{"k":8,"g":"v","x":435,"y":0.13},{"k":8,"g":"v","x":445,"y":0.085},{"k":8,"g":"v","x":460,"y":0.045},{"k":8,"g":"v","x":480,"y":0.02},{"k":8,"g":"v","x":500,"y":0.01},
{"k":8,"g":"w","x":503,"y":0.1},{"k":8,"g":"w","x":515,"y":0.09},{"k":8,"g":"w","x":530,"y":0.1},{"k":8,"g":"w","x":545,"y":0.095},{"k":8,"g":"w","x":560,"y":0.11},{"k":8,"g":"w","x":575,"y":0.115},{"k":8,"g":"w","x":590,"y":0.13},{"k":8,"g":"w","x":605,"y":0.14},{"k":8,"g":"w","x":620,"y":0.155},{"k":8,"g":"w","x":635,"y":0.165},{"k":8,"g":"w","x":650,"y":0.18},{"k":8,"g":"w","x":665,"y":0.185},{"k":8,"g":"w","x":680,"y":0.195},{"k":8,"g":"w","x":695,"y":0.2},{"k":8,"g":"w","x":710,"y":0.2},{"k":8,"g":"w","x":725,"y":0.195},{"k":8,"g":"w","x":740,"y":0.19},{"k":8,"g":"w","x":755,"y":0.185},{"k":8,"g":"w","x":770,"y":0.18},{"k":8,"g":"w","x":785,"y":0.165},{"k":8,"g":"w","x":800,"y":0.155},{"k":8,"g":"w","x":815,"y":0.14},{"k":8,"g":"w","x":830,"y":0.12},{"k":8,"g":"w","x":845,"y":0.125},{"k":8,"g":"w","x":860,"y":0.1},{"k":8,"g":"w","x":875,"y":0.085},{"k":8,"g":"w","x":890,"y":0.1},{"k":8,"g":"w","x":905,"y":0.085},{"k":8,"g":"w","x":920,"y":0.095},{"k":8,"g":"w","x":935,"y":0.08},{"k":8,"g":"w","x":950,"y":0.1},{"k":8,"g":"w","x":965,"y":0.085},{"k":8,"g":"w","x":980,"y":0.1},{"k":8,"g":"w","x":1000,"y":0.09},
{"k":9,"g":"u","x":228,"y":1.5},{"k":9,"g":"u","x":231,"y":0.8},{"k":9,"g":"u","x":235,"y":0.45},{"k":9,"g":"u","x":239,"y":0.34},{"k":9,"g":"u","x":243,"y":0.33},{"k":9,"g":"u","x":248,"y":0.37},{"k":9,"g":"u","x":255,"y":0.42},{"k":9,"g":"u","x":262,"y":0.47},{"k":9,"g":"u","x":268,"y":0.52},{"k":9,"g":"u","x":273,"y":0.55},{"k":9,"g":"u","x":278,"y":0.56},{"k":9,"g":"u","x":282,"y":0.52},{"k":9,"g":"u","x":286,"y":0.45},{"k":9,"g":"u","x":290,"y":0.35},{"k":9,"g":"u","x":295,"y":0.22},{"k":9,"g":"u","x":300,"y":0.15},
{"k":9,"g":"v","x":302,"y":1.5},{"k":9,"g":"v","x":305,"y":0.8},{"k":9,"g":"v","x":308,"y":0.45},{"k":9,"g":"v","x":312,"y":0.36},{"k":9,"g":"v","x":320,"y":0.33},{"k":9,"g":"v","x":330,"y":0.31},{"k":9,"g":"v","x":340,"y":0.29},{"k":9,"g":"v","x":350,"y":0.27},{"k":9,"g":"v","x":360,"y":0.245},{"k":9,"g":"v","x":370,"y":0.22},{"k":9,"g":"v","x":380,"y":0.19},{"k":9,"g":"v","x":390,"y":0.15},{"k":9,"g":"v","x":400,"y":0.11},{"k":9,"g":"v","x":410,"y":0.08},{"k":9,"g":"v","x":420,"y":0.055},{"k":9,"g":"v","x":435,"y":0.035},{"k":9,"g":"v","x":460,"y":0.02},{"k":9,"g":"v","x":500,"y":0.01},
{"k":9,"g":"w","x":503,"y":0.1},{"k":9,"g":"w","x":530,"y":0.11},{"k":9,"g":"w","x":560,"y":0.125},{"k":9,"g":"w","x":590,"y":0.14},{"k":9,"g":"w","x":615,"y":0.145},{"k":9,"g":"w","x":640,"y":0.13},{"k":9,"g":"w","x":670,"y":0.11},{"k":9,"g":"w","x":700,"y":0.09},{"k":9,"g":"w","x":730,"y":0.075},{"k":9,"g":"w","x":760,"y":0.065},{"k":9,"g":"w","x":800,"y":0.055},{"k":9,"g":"w","x":830,"y":0.05},{"k":9,"g":"w","x":850,"y":0.03},{"k":9,"g":"w","x":870,"y":0.02},{"k":9,"g":"w","x":900,"y":0.04},{"k":9,"g":"w","x":930,"y":0.03},{"k":9,"g":"w","x":960,"y":0.05},{"k":9,"g":"w","x":1000,"y":0.04},
{"k":10,"g":"u","x":213,"y":1.5},{"k":10,"g":"u","x":217,"y":0.9},{"k":10,"g":"u","x":221,"y":0.5},{"k":10,"g":"u","x":225,"y":0.28},{"k":10,"g":"u","x":229,"y":0.2},{"k":10,"g":"u","x":233,"y":0.22},{"k":10,"g":"u","x":238,"y":0.3},{"k":10,"g":"u","x":242,"y":0.37},{"k":10,"g":"u","x":245,"y":0.38},{"k":10,"g":"u","x":248,"y":0.3},{"k":10,"g":"u","x":252,"y":0.18},{"k":10,"g":"u","x":256,"y":0.1},{"k":10,"g":"u","x":262,"y":0.06},{"k":10,"g":"u","x":270,"y":0.04},{"k":10,"g":"u","x":280,"y":0.03},{"k":10,"g":"u","x":300,"y":0.025},
{"k":10,"g":"v","x":300,"y":0.66},{"k":10,"g":"v","x":305,"y":0.69},{"k":10,"g":"v","x":310,"y":0.705},{"k":10,"g":"v","x":315,"y":0.69},{"k":10,"g":"v","x":320,"y":0.65},{"k":10,"g":"v","x":325,"y":0.6},{"k":10,"g":"v","x":330,"y":0.53},{"k":10,"g":"v","x":335,"y":0.47},{"k":10,"g":"v","x":340,"y":0.4},{"k":10,"g":"v","x":345,"y":0.32},{"k":10,"g":"v","x":350,"y":0.25},{"k":10,"g":"v","x":355,"y":0.19},{"k":10,"g":"v","x":360,"y":0.13},{"k":10,"g":"v","x":365,"y":0.09},{"k":10,"g":"v","x":370,"y":0.06},{"k":10,"g":"v","x":380,"y":0.03},{"k":10,"g":"v","x":400,"y":0.015},{"k":10,"g":"v","x":450,"y":0.01},{"k":10,"g":"v","x":500,"y":0.01},
{"k":10,"g":"w","x":503,"y":0.07},{"k":10,"g":"w","x":520,"y":0.065},{"k":10,"g":"w","x":540,"y":0.075},{"k":10,"g":"w","x":560,"y":0.06},{"k":10,"g":"w","x":580,"y":0.07},{"k":10,"g":"w","x":600,"y":0.065},{"k":10,"g":"w","x":620,"y":0.07},{"k":10,"g":"w","x":640,"y":0.06},{"k":10,"g":"w","x":660,"y":0.065},{"k":10,"g":"w","x":680,"y":0.06},{"k":10,"g":"w","x":700,"y":0.07},{"k":10,"g":"w","x":720,"y":0.055},{"k":10,"g":"w","x":740,"y":0.065},{"k":10,"g":"w","x":760,"y":0.06},{"k":10,"g":"w","x":780,"y":0.07},{"k":10,"g":"w","x":800,"y":0.06},{"k":10,"g":"w","x":820,"y":0.06},{"k":10,"g":"w","x":825,"y":0.0},{"k":10,"g":"w","x":835,"y":0.03},{"k":10,"g":"w","x":845,"y":0.0},{"k":10,"g":"w","x":860,"y":0.03},{"k":10,"g":"w","x":870,"y":0.0},{"k":10,"g":"w","x":880,"y":0.02},{"k":10,"g":"w","x":895,"y":0.06},{"k":10,"g":"w","x":905,"y":0.01},{"k":10,"g":"w","x":915,"y":0.06},{"k":10,"g":"w","x":930,"y":0.005},{"k":10,"g":"w","x":945,"y":0.05},{"k":10,"g":"w","x":955,"y":0.0},{"k":10,"g":"w","x":965,"y":0.04},{"k":10,"g":"w","x":975,"y":0.005},{"k":10,"g":"w","x":990,"y":0.05},{"k":10,"g":"w","x":1000,"y":0.0},
{"k":11,"g":"u","x":229,"y":1.5},{"k":11,"g":"u","x":232,"y":0.8},{"k":11,"g":"u","x":235,"y":0.45},{"k":11,"g":"u","x":238,"y":0.28},{"k":11,"g":"u","x":242,"y":0.2},{"k":11,"g":"u","x":246,"y":0.21},{"k":11,"g":"u","x":250,"y":0.26},{"k":11,"g":"u","x":256,"y":0.34},{"k":11,"g":"u","x":262,"y":0.42},{"k":11,"g":"u","x":268,"y":0.48},{"k":11,"g":"u","x":274,"y":0.53},{"k":11,"g":"u","x":279,"y":0.56},{"k":11,"g":"u","x":283,"y":0.52},{"k":11,"g":"u","x":287,"y":0.42},{"k":11,"g":"u","x":291,"y":0.3},{"k":11,"g":"u","x":295,"y":0.18},{"k":11,"g":"u","x":300,"y":0.08},
{"k":11,"g":"v","x":304,"y":1.5},{"k":11,"g":"v","x":306,"y":1.1},{"k":11,"g":"v","x":308,"y":0.7},{"k":11,"g":"v","x":310,"y":0.4},{"k":11,"g":"v","x":312,"y":0.22},{"k":11,"g":"v","x":315,"y":0.13},{"k":11,"g":"v","x":320,"y":0.1},{"k":11,"g":"v","x":326,"y":0.095},{"k":11,"g":"v","x":330,"y":0.085},{"k":11,"g":"v","x":340,"y":0.065},{"k":11,"g":"v","x":350,"y":0.05},{"k":11,"g":"v","x":365,"y":0.035},{"k":11,"g":"v","x":380,"y":0.025},{"k":11,"g":"v","x":400,"y":0.018},{"k":11,"g":"v","x":450,"y":0.012},{"k":11,"g":"v","x":500,"y":0.01},
{"k":11,"g":"w","x":503,"y":0.05},{"k":11,"g":"w","x":520,"y":0.06},{"k":11,"g":"w","x":540,"y":0.05},{"k":11,"g":"w","x":560,"y":0.06},{"k":11,"g":"w","x":580,"y":0.05},{"k":11,"g":"w","x":600,"y":0.055},{"k":11,"g":"w","x":620,"y":0.05},{"k":11,"g":"w","x":640,"y":0.06},{"k":11,"g":"w","x":660,"y":0.05},{"k":11,"g":"w","x":680,"y":0.055},{"k":11,"g":"w","x":700,"y":0.05},{"k":11,"g":"w","x":720,"y":0.055},{"k":11,"g":"w","x":740,"y":0.05},{"k":11,"g":"w","x":760,"y":0.045},{"k":11,"g":"w","x":780,"y":0.055},{"k":11,"g":"w","x":800,"y":0.05},{"k":11,"g":"w","x":820,"y":0.045},{"k":11,"g":"w","x":830,"y":0.1},{"k":11,"g":"w","x":835,"y":0.05},{"k":11,"g":"w","x":850,"y":0.08},{"k":11,"g":"w","x":870,"y":0.05},{"k":11,"g":"w","x":880,"y":0.09},{"k":11,"g":"w","x":890,"y":0.06},{"k":11,"g":"w","x":900,"y":0.1},{"k":11,"g":"w","x":910,"y":0.07},{"k":11,"g":"w","x":920,"y":0.1},{"k":11,"g":"w","x":935,"y":0.06},{"k":11,"g":"w","x":945,"y":0.09},{"k":11,"g":"w","x":960,"y":0.07},{"k":11,"g":"w","x":975,"y":0.11},{"k":11,"g":"w","x":985,"y":0.06},{"k":11,"g":"w","x":1000,"y":0.1}
]
},
"bounds":"flush",
"spacing":136,
"resolve":{"scale":{"color":"independent"}},
"vconcat":[
{
 "width":676,"height":620,
 "encoding":{
  "x":{"field":"x","type":"quantitative","scale":{"domain":[2500,3700],"nice":false,"zero":false},"axis":{"values":[2500,2700,2900,3100,3300,3500,3700],"format":"d","title":"Magnetic Field (gauss)","labelPadding":8,"titlePadding":22}},
  "y":{"field":"y","type":"quantitative","scale":{"domain":[0,620],"nice":false,"zero":false},"axis":null}
 },
 "layer":[
  {"data":{"name":"epr"},"mark":{"type":"line","color":"#111","strokeWidth":2,"strokeJoin":"round"},"encoding":{"detail":{"field":"s"}}},
  {"data":{"values":[{"x":2706,"y":549,"y2":220},{"x":2893,"y":551,"y2":220},{"x":3079,"y":556,"y2":230}]},"mark":{"type":"rule","color":"#1a2ecc","strokeWidth":3,"strokeDash":[9,6]},"encoding":{"y2":{"field":"y2"}}},
  {"data":{"values":[{"t":"(a)","x":2500,"y":528},{"t":"(b)","x":2500,"y":474},{"t":"(c)","x":2500,"y":423},{"t":"(d)","x":2500,"y":365},{"t":"(e)","x":2500,"y":310},{"t":"(f)","x":2500,"y":254},{"t":"(g)","x":2500,"y":201}]},"mark":{"type":"text","align":"right","baseline":"middle","dx":-2,"fontSize":23,"fontWeight":"bold"},"encoding":{"text":{"field":"t"}}},
  {"data":{"values":[{"t":"CuL(Glu)","x":3451,"y":544},{"t":"CuL(Gly)","x":3451,"y":490},{"t":"CuL(Trp)","x":3451,"y":435},{"t":"CuL(Tyr)","x":3451,"y":381},{"t":"CuL(Met)","x":3451,"y":327},{"t":"CuL(GSSG)","x":3451,"y":279},{"t":"Cu(sulfoxine)(Trp)","x":3451,"y":215}]},"mark":{"type":"text","align":"left","baseline":"middle","fontSize":23},"encoding":{"text":{"field":"t"}}}
 ]
},
{
 "bounds":"flush",
 "spacing":2,
 "resolve":{"scale":{"color":"independent","x":"independent","y":"independent"},"legend":{"color":"independent"}},
 "hconcat":[
  {"width":49,"height":335,"data":{"values":[{"z":0}]},"mark":{"type":"text","text":" "}},
  {
   "width":389,"height":335,
   "encoding":{
    "x":{"field":"x","type":"quantitative","scale":{"domain":[200,527],"nice":false,"zero":false},"axis":{"values":[200,225,250,275,300,325,350,375,400,425,450,475,500],"format":"d","labelExpr":"datum.value % 100 === 0 ? datum.label : ''","title":"Wavelength (nm)","titleX":294,"labelPadding":8,"titlePadding":16}},
    "y":{"field":"y","type":"quantitative","scale":{"domain":[0,1.5],"nice":false,"zero":false},"axis":{"values":[0,0.2,0.4,0.6,0.8,1.0,1.2,1.4],"format":".1f","title":"ε (10⁵ M⁻¹cm⁻¹)","titleFontSize":17,"labelPadding":9,"titlePadding":8}}
   },
   "layer":[
    {"data":{"values":[{"x":300,"x2":500,"y":0,"y2":1.59}]},"mark":{"type":"rect","fill":"#f6f6f6","stroke":"#111","strokeWidth":3,"strokeDash":[9,6]},"encoding":{"x2":{"field":"x2"},"y2":{"field":"y2"}}},
    {"data":{"name":"uv"},"transform":[{"filter":"datum.g !== 'w'"},{"lookup":"k","from":{"data":{"name":"names"},"key":"k","fields":["name"]}}],"mark":{"type":"line","strokeWidth":2},"encoding":{"color":{"field":"name","type":"nominal","scale":{"domain":["Cu/L 1:1","Cu/L/Trp 1:1:0.25","Cu/L/Trp 1:1:0.5","Cu/L/Trp 1:1:1","Cu/L/Trp 1:1:2","Cu/L/Trp 1:1:5","Cu/L/Trp 1:1:10","Cu/L/Trp 1:1:20","Cu/Trp 1:1","L","Trp"],"range":["#c1272d","#1f3a7a","#2e86c1","#9370b8","#f2a25c","#3a5a1c","#8d7b4f","#ed2024","#f4ee00","#6abd45","#111111"]},"legend":null},"detail":{"field":"g"}}},
    {"data":{"values":[{"t":"a","x":242,"y":0.067},{"t":"b","x":259,"y":0.215},{"t":"c","x":319,"y":0.76},{"t":"d","x":367,"y":0.717},{"t":"d′","x":431,"y":0.26}]},"mark":{"type":"text","fontStyle":"italic","fontSize":20,"baseline":"middle"},"encoding":{"text":{"field":"t"}}},
    {"data":{"values":[{"t":"×30","x":342,"y":1.4}]},"mark":{"type":"text","fontSize":20,"baseline":"middle"},"encoding":{"text":{"field":"t"}}},
    {"data":{"values":[{"t":"(h)","x":145,"y":1.617}]},"mark":{"type":"text","fontSize":23,"fontWeight":"bold","baseline":"middle"},"encoding":{"text":{"field":"t"}}},
    {"data":{"values":[{"t":"//","x":523,"y":0}]},"mark":{"type":"text","fontSize":26,"fontWeight":"bold","baseline":"middle"},"encoding":{"text":{"field":"t"}}}
   ]
  },
  {
   "width":179,"height":335,
   "encoding":{
    "x":{"field":"x","type":"quantitative","scale":{"domain":[415,1000],"nice":false,"zero":false},"axis":{"values":[550,600,650,700,750,800,850,900,950,1000],"format":"d","labelExpr":"datum.value % 200 === 0 ? datum.label : ''","title":null,"labelPadding":8}},
    "y":{"field":"y","type":"quantitative","scale":{"domain":[0,1.5],"nice":false,"zero":false},"axis":null}
   },
   "layer":[
    {"data":{"values":[{"x":500,"x2":1000,"y":0,"y2":1.59}]},"mark":{"type":"rect","fill":"#f6f6f6","stroke":"#111","strokeWidth":3,"strokeDash":[9,6]},"encoding":{"x2":{"field":"x2"},"y2":{"field":"y2"}}},
    {"data":{"name":"uv"},"transform":[{"filter":"datum.g === 'w'"},{"lookup":"k","from":{"data":{"name":"names"},"key":"k","fields":["name"]}}],"mark":{"type":"line","strokeWidth":2},"encoding":{"color":{"field":"name","type":"nominal","scale":{"domain":["Cu/L 1:1","Cu/L/Trp 1:1:0.25","Cu/L/Trp 1:1:0.5","Cu/L/Trp 1:1:1","Cu/L/Trp 1:1:2","Cu/L/Trp 1:1:5","Cu/L/Trp 1:1:10","Cu/L/Trp 1:1:20","Cu/Trp 1:1","L","Trp"],"range":["#c1272d","#1f3a7a","#2e86c1","#9370b8","#f2a25c","#3a5a1c","#8d7b4f","#ed2024","#f4ee00","#6abd45","#111111"]},"legend":{"orient":"none","legendX":193,"legendY":-13,"title":null,"symbolType":"stroke","symbolSize":625,"symbolStrokeWidth":3,"labelFontSize":15,"labelOffset":2,"rowPadding":0,"labelColor":"#222","labelLimit":300}},"detail":{"field":"g"}}},
    {"data":{"values":[{"t":"e","x":719,"y":0.38}]},"mark":{"type":"text","fontStyle":"italic","fontSize":20,"baseline":"middle"},"encoding":{"text":{"field":"t"}}},
    {"data":{"values":[{"t":"×150","x":663,"y":1.4}]},"mark":{"type":"text","fontSize":20,"baseline":"middle"},"encoding":{"text":{"field":"t"}}}
   ]
  }
 ]
}
]
}
